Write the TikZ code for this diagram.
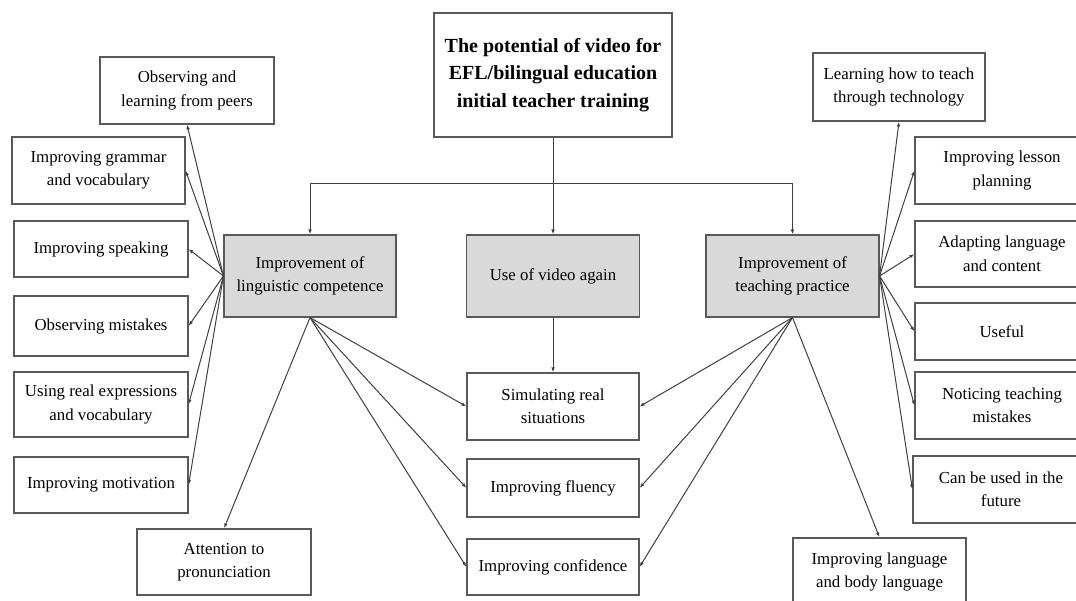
\documentclass[tikz,border=0pt]{standalone}
\usepackage{fontspec}
\setmainfont{Liberation Serif}
\usetikzlibrary{arrows.meta}
\begin{document}
\begin{tikzpicture}[x=1pt,y=-1pt,
  box/.style={draw=black!65, line width=1.1pt, fill=white, align=center, inner sep=0pt,
    font=\fontsize{16.8}{23.5}\selectfont},
  graybox/.style={box, fill=black!15},
  titlebox/.style={box, font=\fontsize{20}{27.5}\selectfont\bfseries},
  conn/.style={draw=black!75, line width=1pt},
  link/.style={conn, -{Latex[length=5pt,width=3.6pt]}}]
\useasboundingbox (0,0) rectangle (1076,601);

% title
\node[titlebox, minimum width=238pt, minimum height=124pt] (title) at (553,75)
  {The potential of video for\\EFL/bilingual education\\initial teacher training};

% central gray boxes
\node[graybox, minimum width=172pt, minimum height=82pt] (ling) at (310,276)
  {Improvement of\\linguistic competence};
\node[graybox, minimum width=173pt, minimum height=82pt] (video) at (553,276)
  {Use of video again};
\node[graybox, minimum width=173pt, minimum height=82pt] (teach) at (792.5,276)
  {Improvement of\\teaching practice};

% left boxes
\node[box, minimum width=174pt, minimum height=67pt] (peers) at (187,90.5)
  {Observing and\\learning from peers};
\node[box, minimum width=173pt, minimum height=67pt] (grammar) at (98.5,170.5)
  {Improving grammar\\and vocabulary};
\node[box, minimum width=174pt, minimum height=56pt] (speak) at (101,249)
  {Improving speaking};
\node[box, minimum width=174pt, minimum height=60pt] (mist) at (101,326)
  {Observing mistakes};
\node[box, minimum width=174pt, minimum height=65pt] (real) at (101,404.5)
  {Using real expressions\\and vocabulary};
\node[box, minimum width=174pt, minimum height=56pt] (motiv) at (101,485)
  {Improving motivation};
\node[box, minimum width=174pt, minimum height=66pt] (pron) at (224,562)
  {Attention to\\pronunciation};

% middle boxes
\node[box, minimum width=172pt, minimum height=67pt] (sim) at (553,406.5)
  {Simulating real\\situations};
\node[box, minimum width=172pt, minimum height=58pt] (flu) at (553,488)
  {Improving fluency};
\node[box, minimum width=172pt, minimum height=56pt] (conf) at (553,567)
  {Improving confidence};

% right boxes
\node[box, minimum width=172pt, minimum height=68pt] (tech) at (899,87)
  {Learning how to teach\\through technology};
\node[box, minimum width=174pt, minimum height=67pt] (lesson) at (1002,170.5)
  {Improving lesson\\planning};
\node[box, minimum width=174pt, minimum height=66pt] (adapt) at (1002,254)
  {Adapting language\\and content};
\node[box, minimum width=174pt, minimum height=57pt] (useful) at (1002,331.5)
  {Useful};
\node[box, minimum width=174pt, minimum height=67pt] (notice) at (1002,405.5)
  {Noticing teaching\\mistakes};
\node[box, minimum width=176pt, minimum height=67pt] (future) at (1001,489.5)
  {Can be used in the\\future};
\node[box, minimum width=173pt, minimum height=68pt] (body) at (879.5,572)
  {Improving language\\and body language};

% top connectors
\coordinate (hl) at (310,184);
\coordinate (hr) at (792.5,184);
\draw[link] (title.south) -- (video.north);
\draw[conn] (hl) -- (hr);
\draw[link] (hl) -- (ling.north);
\draw[link] (hr) -- (teach.north);
\draw[link] (video.south) -- (sim.north);

% linguistic competence
\draw[link] (ling.west) -- (peers.south);
\draw[link] (ling.west) -- (grammar.east);
\draw[link] (ling.west) -- (speak.east);
\draw[link] (ling.west) -- (mist.east);
\draw[link] (ling.west) -- (real.east);
\draw[link] (ling.west) -- (motiv.east);
\draw[link] (ling.south) -- (pron.north);
\draw[link] (ling.south) -- (sim.west);
\draw[link] (ling.south) -- (flu.west);
\draw[link] (ling.south) -- (conf.west);

% teaching practice
\draw[link] (teach.south) -- (sim.east);
\draw[link] (teach.south) -- (flu.east);
\draw[link] (teach.south) -- (conf.east);
\draw[link] (teach.south) -- (body.north);
\draw[link] (teach.east) -- (tech.south);
\draw[link] (teach.east) -- (lesson.west);
\draw[link] (teach.east) -- (adapt.west);
\draw[link] (teach.east) -- (useful.west);
\draw[link] (teach.east) -- (notice.west);
\draw[link] (teach.east) -- (future.west);
\end{tikzpicture}
\end{document}
